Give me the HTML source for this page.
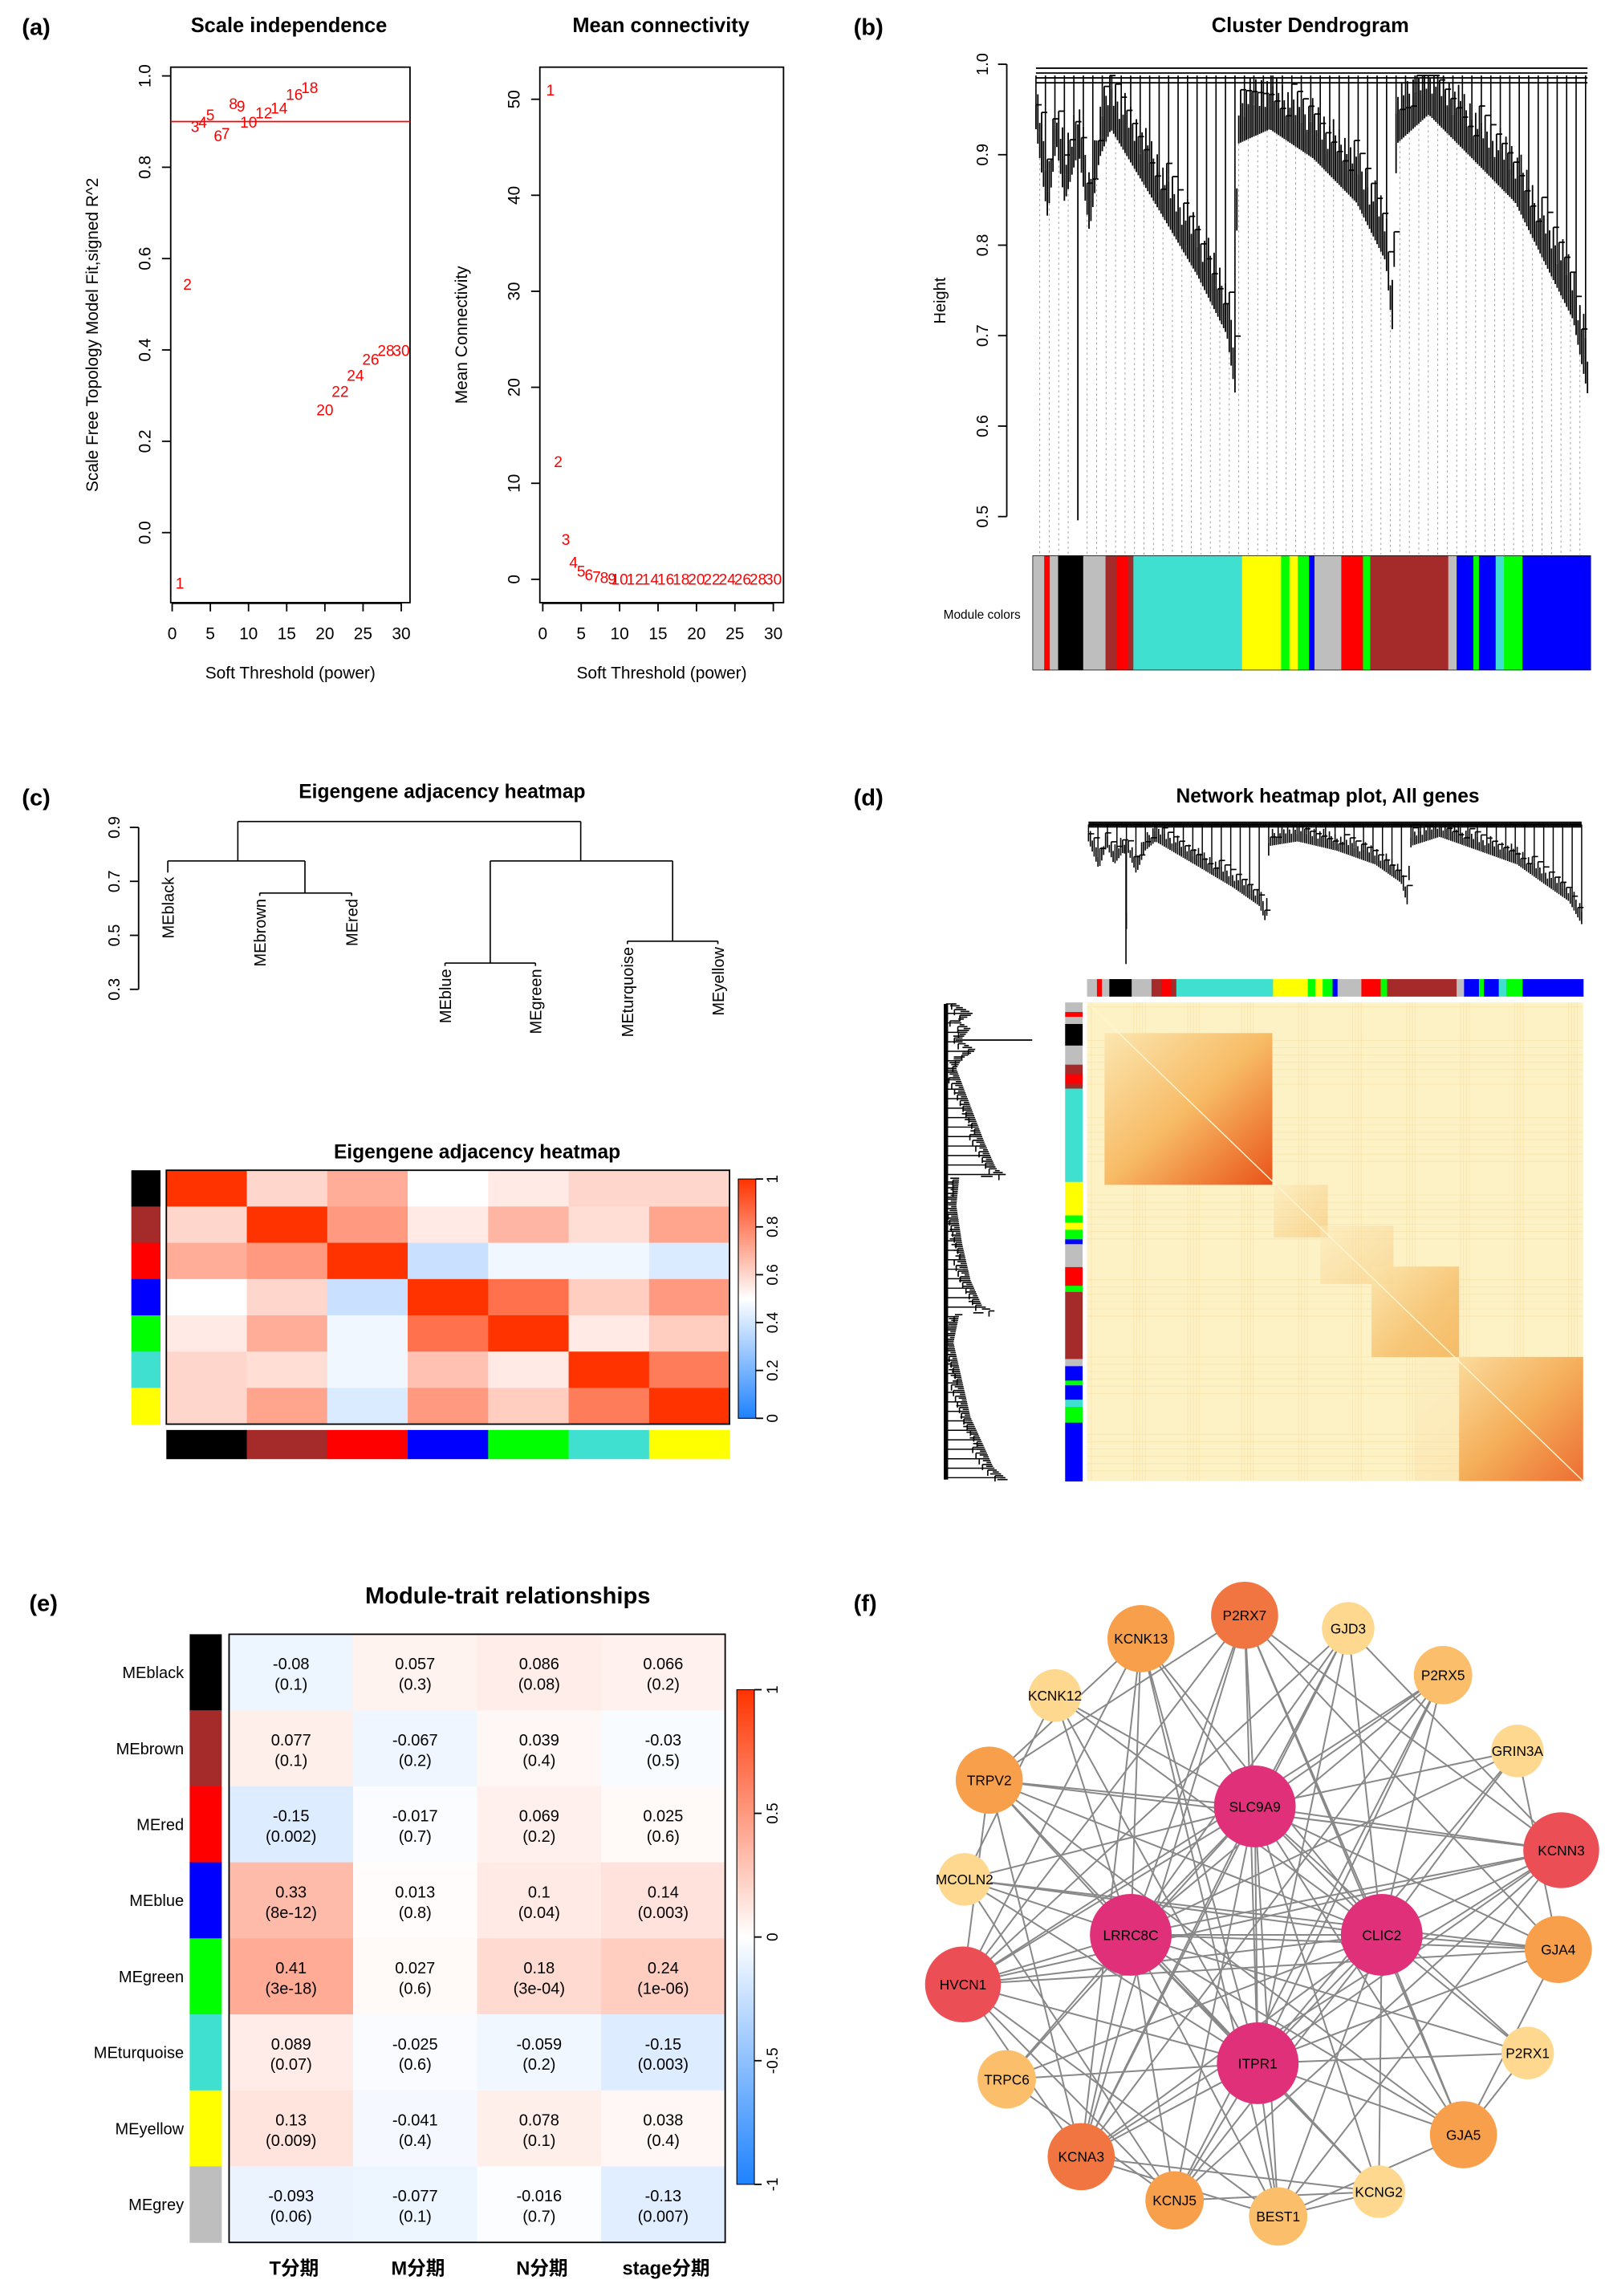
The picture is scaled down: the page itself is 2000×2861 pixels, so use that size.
<!DOCTYPE html>
<html><head><meta charset="utf-8"><style>
html,body{margin:0;padding:0;background:#fff;}
svg{display:block;font-family:"Liberation Sans","Noto Sans CJK SC",sans-serif;}
</style></head><body>
<svg id="fig" width="2000" height="2861" viewBox="0 0 1100 1573.5" xmlns="http://www.w3.org/2000/svg">
<defs>
<linearGradient id="gTurq" x1="0" y1="0" x2="1" y2="1"><stop offset="0" stop-color="#fbe6b0"/><stop offset="0.5" stop-color="#f7b860"/><stop offset="1" stop-color="#e84a10"/></linearGradient>
<linearGradient id="gBlue" x1="0" y1="0" x2="1" y2="1"><stop offset="0" stop-color="#fad590"/><stop offset="0.5" stop-color="#f39a3c"/><stop offset="1" stop-color="#e8400e"/></linearGradient>
<linearGradient id="gBrown" x1="0" y1="0" x2="1" y2="1"><stop offset="0" stop-color="#fbe4aa"/><stop offset="0.6" stop-color="#f6c270"/><stop offset="1" stop-color="#f4b65c"/></linearGradient>
<linearGradient id="gYel" x1="0" y1="0" x2="1" y2="1"><stop offset="0" stop-color="#fcebbc"/><stop offset="1" stop-color="#f5c370"/></linearGradient>
<linearGradient id="cbC" x1="0" y1="1" x2="0" y2="0"><stop offset="0" stop-color="#1e82ff"/><stop offset="0.5" stop-color="#ffffff"/><stop offset="1" stop-color="#ff3300"/></linearGradient>
</defs>
<g id="root"></g>
</svg>
<script>
// ---------- data ----------
const powers=[1,2,3,4,5,6,7,8,9,10,12,14,16,18,20,22,24,26,28,30];
const r2Values=[-0.11,0.545,0.89,0.9,0.915,0.87,0.875,0.94,0.935,0.9,0.92,0.93,0.96,0.975,0.27,0.31,0.345,0.38,0.40,0.40];
const meanConn=[51,12.3,4.2,1.8,0.9,0.5,0.3,0.2,0.1,0.05,0.05,0.05,0.05,0.05,0.05,0.05,0.05,0.05,0.05,0.05];
const xTicksA=[0,5,10,15,20,25,30];
const yTicksR2=[0.0,0.2,0.4,0.6,0.8,1.0];
const yTicksMC=[0,10,20,30,40,50];
const modules=["black","brown","red","blue","green","turquoise","yellow"];
const moduleColors=["#000000","#a52a2a","#ff0000","#0000ff","#00ff00","#40e0d0","#ffff00"];
const adjRows=[
[1,0.6,0.7,0.5,0.55,0.6,0.6],
[0.6,1,0.75,0.55,0.68,0.58,0.72],
[0.7,0.75,1,0.38,0.47,0.47,0.42],
[0.5,0.6,0.38,1,0.85,0.62,0.75],
[0.55,0.7,0.47,0.85,1,0.55,0.62],
[0.6,0.58,0.47,0.65,0.55,1,0.82],
[0.6,0.72,0.42,0.75,0.62,0.82,1]];
const traitRows=["MEblack","MEbrown","MEred","MEblue","MEgreen","MEturquoise","MEyellow","MEgrey"];
const traitRowColors=["#000000","#a52a2a","#ff0000","#0000ff","#00ff00","#40e0d0","#ffff00","#bebebe"];
const traitCols=["T分期","M分期","N分期","stage分期"];
const corT=[-0.08,0.077,-0.15,0.33,0.41,0.089,0.13,-0.093];
const corM=[0.057,-0.067,-0.017,0.013,0.027,-0.025,-0.041,-0.077];
const corN=[0.086,0.039,0.069,0.1,0.18,-0.059,0.078,-0.016];
const corS=[0.066,-0.03,0.025,0.14,0.24,-0.15,0.038,-0.13];
const pT=["0.1","0.1","0.002","8e-12","3e-18","0.07","0.009","0.06"];
const pM=["0.3","0.2","0.7","0.8","0.6","0.6","0.4","0.1"];
const pN=["0.08","0.4","0.2","0.04","3e-04","0.2","0.1","0.7"];
const pS=["0.2","0.5","0.6","0.003","1e-06","0.003","0.4","0.007"];
const segStart=[0,0.02,0.03,0.045,0.09,0.13,0.15,0.17,0.18,0.375,0.445,0.46,0.475,0.495,0.505,0.553,0.592,0.605,0.745,0.76,0.79,0.80,0.83,0.845,0.878];
const segCol=["#bebebe","#ff0000","#bebebe","#000000","#bebebe","#a52a2a","#ff0000","#a52a2a","#40e0d0","#ffff00","#00ff00","#ffff00","#00ff00","#0000ff","#bebebe","#ff0000","#00ff00","#a52a2a","#bebebe","#0000ff","#00ff00","#0000ff","#40e0d0","#00ff00","#0000ff"];
const nodeNames=["P2RX7","KCNK13","GJD3","KCNK12","P2RX5","GRIN3A","TRPV2","SLC9A9","KCNN3","MCOLN2","LRRC8C","CLIC2","GJA4","HVCN1","P2RX1","TRPC6","ITPR1","KCNA3","GJA5","KCNJ5","BEST1","KCNG2"];
const nodeX=[853,782,924,723,989,1040,678,860,1070,661,775,947,1068,660,1047,690,862,741,1003,805,876,945];
const nodeY=[1107,1123,1116,1162,1148,1200,1220,1238,1268,1288,1326,1326,1336,1360,1407,1425,1414,1478,1463,1508,1519,1502];
const nodeDegree=[9,8,4,3,6,4,8,14,11,4,14,14,8,10,3,6,14,9,8,7,6,3];
const edgesA=[0,0,0,0,0,1,1,1,2,2,3,4,4,5,6,6,6,8,8,8,9,12,12,13,13,13,14,15,17,17,18,19,20,1,4,6,9,0,8,2];
const edgesB=[6,8,13,17,18,6,13,17,8,13,9,13,17,12,8,13,17,13,17,19,19,13,18,17,19,20,18,19,20,21,20,21,21,20,19,18,12,12,20,17];
const treePos=[0,0.021,0.037,0.052,0.073,0.076,0.079,0.097,0.115,0.136,0.215,0.293,0.346,0.361,0.366,0.424,0.503,0.581,0.634,0.647,0.654,0.712,0.791,0.869,0.921,0.974,1];
const treeDepth=[0.13,0.31,0.16,0.28,0.19,0.93,0.19,0.34,0.19,0.13,0.28,0.43,0.55,0.67,0.16,0.13,0.19,0.28,0.40,0.55,0.16,0.10,0.19,0.28,0.40,0.52,0.67];

const root=document.getElementById('root');
const NS="http://www.w3.org/2000/svg";
function el(tag,attrs,parent,text){const e=document.createElementNS(NS,tag);for(const k in attrs)e.setAttribute(k,attrs[k]);if(text!==undefined)e.textContent=text;(parent||root).appendChild(e);return e;}
function grp(name){const g=el('g',{});return g;}
function txt(parent,name,x,y,s,size,opts){const t=el('text',Object.assign({x:x,y:y,'font-size':size,'text-anchor':'middle',fill:'#000'},opts||{}),parent,s);return t;}
function divColor(v){const c=Math.max(-1,Math.min(1,v));let r,g,b;if(c>=0){r=255;g=255-c*204;b=255-c*255;}else{const a=-c;r=255-a*225;g=255-a*125;b=255;}return `rgb(${r|0},${g|0},${b|0})`;}

[["(a)",15,24],["(b)",585,24],["(c)",15,552],["(d)",585,552],["(e)",20,1104],["(f)",585,1104]].forEach(p=>{txt(root,'panel-label-'+p[0][1],p[1],p[2],p[0],16,{'font-weight':'bold','text-anchor':'start'});});

function scatterPanel(name,bx0,bx1,by0,by1,xmin,xmax,xpx0,xpx1,ymin,ymax,ypx0,ypx1,yTicks,title,ylab,titleX){
 const g=grp(name);
 const sx=v=>xpx0+(v-xmin)/(xmax-xmin)*(xpx1-xpx0);
 const sy=v=>ypx0+(v-ymin)/(ymax-ymin)*(ypx1-ypx0);
 el('rect',{x:bx0,y:by0,width:bx1-bx0,height:by1-by0,fill:'none',stroke:'#000','stroke-width':1},g);
 txt(g,'title',titleX,22,title,14,{'font-weight':'bold'});
 xTicksA.forEach(v=>{el('line',{x1:sx(v),x2:sx(v),y1:by1,y2:by1+6,stroke:'#000'},g);txt(g,'x-tick-label',sx(v),by1+25,String(v),11.5);});
 el('line',{x1:sx(0),x2:sx(30),y1:by1+0.5,y2:by1+0.5,stroke:'#000'},g);
 yTicks.forEach(v=>{const y=sy(v);el('line',{x1:bx0-6,x2:bx0,y1:y,y2:y,stroke:'#000'},g);txt(g,'y-tick-label',bx0-14,y,(ymax<2)?v.toFixed(1):String(v),11.5,{transform:`rotate(-90 ${bx0-14} ${y})`});});
 txt(g,'x-axis-title',(bx0+bx1)/2,465,'Soft Threshold (power)',11.5);
 txt(g,'y-axis-title',bx0-50,(by0+by1)/2,ylab,11.5,{transform:`rotate(-90 ${bx0-50} ${(by0+by1)/2})`});
 return {g,sx,sy};
}
const A=scatterPanel('scale-independence-plot',117,281,46,413,0,30,118,275,0,1,365,52,yTicksR2,'Scale independence','Scale Free Topology Model Fit,signed R^2',198);
const hl=el('line',{x1:117,x2:281,y1:A.sy(0.9),y2:A.sy(0.9),stroke:'#ff0000','stroke-width':1},A.g);


powers.forEach((p,i)=>{txt(A.g,'point-label',A.sx(p),A.sy(r2Values[i])+4,String(p),10.5,{fill:'#ff0000'});});
const B=scatterPanel('mean-connectivity-plot',370,537,46,413,0,30,372,530,0,50,397,68,yTicksMC,'Mean connectivity','Mean Connectivity',453);
powers.forEach((p,i)=>{txt(B.g,'point-label',B.sx(p),B.sy(meanConn[i])+4,String(p),10.5,{fill:'#ff0000'});});

function interp(xs,ys,x){for(let i=0;i<xs.length-1;i++){if(x>=xs[i]&&x<=xs[i+1]){const t=(x-xs[i])/((xs[i+1]-xs[i])||1);return ys[i]+t*(ys[i+1]-ys[i]);}}return ys[ys.length-1];}
function dendro(g,p0,p1,rootC,groundC,horizontal,dotsTo,sw){
 const n=Math.round(Math.abs(p1-p0)/1.3);
 const line=(pa,da,pb,db,w,col,dash)=>{const at={stroke:col||'#000','stroke-width':w};if(dash)at['stroke-dasharray']=dash;
  if(horizontal){at.x1=da;at.x2=db;at.y1=pa;at.y2=pb;}else{at.x1=pa;at.x2=pb;at.y1=da;at.y2=db;}el('line',at,g);};
 const D=d=>rootC+d*(groundC-rootC);
 for(let i=0;i<=n;i++){
  const f=i/n, d=interp(treePos,treeDepth,f), pos=p0+f*(p1-p0);
  const j=((i*7)%11)/11;
  const top=Math.max(0.02,d-0.05-j*0.08);
  if(d<0.8){
   line(pos,D(top),pos,D(d),sw,'#000');
   if(i%5===0) line(pos,D(0.02),pos,D(Math.max(0.02,top)),sw*0.9,'#000');
   if(i%3===0 && i<n){const f2=(i+3)/n;line(pos,D(top),p0+f2*(p1-p0),D(top),sw,'#000');}
  }
 }
 // the single long outlier leaf
 let mi=0;treeDepth.forEach((d,i)=>{if(d>treeDepth[mi])mi=i;});
 const mp=p0+treePos[mi]*(p1-p0);
 line(mp,D(0.12),mp,D(treeDepth[mi]),sw,'#000');
 for(let k=0;k<4;k++) line(p0,D(0.005+k*0.01),p1,D(0.005+k*0.01),1,'#000');
 if(dotsTo){for(let i=2;i<=n;i+=5){const f=i/n,d=interp(treePos,treeDepth,f),pos=p0+f*(p1-p0);if(d<0.8)line(pos,D(d),pos,dotsTo,0.5,'#999','1.5,2');}}
}
function colorBar(g,x,y,w,h,vertical){
 segStart.forEach((s,i)=>{const e=i<segStart.length-1?segStart[i+1]:1;
  const r=vertical?el('rect',{x:x,y:y+s*h,width:w,height:(e-s)*h+0.3,fill:segCol[i]},g):el('rect',{x:x+s*w,y:y,width:(e-s)*w+0.3,height:h,fill:segCol[i]},g);
  
  });
}

(function(){
 const g=grp('cluster-dendrogram');
 txt(g,'title',898,22,'Cluster Dendrogram',14,{'font-weight':'bold'});
 const sy=v=>44+(1-v)/(0.5)*310;
 el('line',{x1:690,x2:690,y1:sy(1),y2:sy(0.5),stroke:'#000'},g);
 [0.5,0.6,0.7,0.8,0.9,1.0].forEach(v=>{el('line',{x1:684,x2:690,y1:sy(v),y2:sy(v),stroke:'#000'},g);txt(g,'y-tick-label',677,sy(v),v.toFixed(1),11,{transform:`rotate(-90 677 ${sy(v)})`});});
 txt(g,'y-axis-title',648,206,'Height',11,{transform:'rotate(-90 648 206)'});
 dendro(g,710,1088,45,380,false,380,1);
 el('rect',{x:708,y:381,width:382,height:78,fill:'none',stroke:'#000','stroke-width':0.8},g);
 colorBar(g,708,381,382,78,false);
 txt(g,'module-colors-label',673,424,'Module colors',8.5);
})();

(function(){
 const g=grp('eigengene-dendrogram');
 txt(g,'title',303,547,'Eigengene adjacency heatmap',13.5,{'font-weight':'bold'});
 const sy=v=>567+(0.9-v)/0.6*111;
 el('line',{x1:95,x2:95,y1:sy(0.9),y2:sy(0.3),stroke:'#000'},g);
 [0.3,0.5,0.7,0.9].forEach(v=>{el('line',{x1:89,x2:95,y1:sy(v),y2:sy(v),stroke:'#000'},g);txt(g,'y-tick-label',82,sy(v),v.toFixed(1),11,{transform:`rotate(-90 82 ${sy(v)})`});});
 const L=(x1,y1,x2,y2)=>el('line',{x1,y1,x2,y2,stroke:'#000','stroke-width':0.9},g);
 L(163,563,398,563);L(163,563,163,590);L(398,563,398,590);
 L(115,590,209,590);L(115,590,115,598);L(209,590,209,612);
 L(178,612,241,612);L(178,612,178,614);L(241,612,241,614);
 L(336,590,461,590);L(336,590,336,660);L(461,590,461,645);
 L(305,660,367,660);L(305,660,305,662);L(367,660,367,662);
 L(430,645,492,645);L(430,645,430,647);L(492,645,492,647);
 [["MEblack",115,601],["MEbrown",178,616],["MEred",241,616],["MEblue",305,664],["MEgreen",367,664],["MEturquoise",430,649],["MEyellow",492,649]].forEach(d=>{txt(g,'leaf-label',d[1]+4,d[2],d[0],11,{'text-anchor':'end',transform:`rotate(-90 ${d[1]+4} ${d[2]})`});});
 const h=grp('eigengene-heatmap');
 txt(h,'title',327,794,'Eigengene adjacency heatmap',13.5,{'font-weight':'bold'});
 const x0=114,y0=802,cw=386/7,ch=174/7;
 adjRows.forEach((row,i)=>row.forEach((v,j)=>{const r=el('rect',{x:x0+j*cw,y:y0+i*ch,width:cw+0.4,height:ch+0.4,fill:divColor(2*v-1)},h);}));
 el('rect',{x:x0,y:y0,width:386,height:174,fill:'none',stroke:'#000'},h);
 moduleColors.forEach((c,i)=>{el('rect',{x:90,y:y0+i*ch,width:20,height:ch+0.3,fill:c},h);el('rect',{x:x0+i*cw,y:980,width:cw+0.3,height:20,fill:c},h);});
 el('rect',{x:506,y:808,width:12,height:164,fill:'url(#cbC)',stroke:'#000','stroke-width':0.6},h);
 [0,0.2,0.4,0.6,0.8,1].forEach(v=>{const y=972-v*164;el('line',{x1:518,x2:523,y1:y,y2:y,stroke:'#000'},h);txt(h,'colorbar-tick',533,y,String(v),10.5,{transform:`rotate(-90 533 ${y})`});});
})();

(function(){
 const g=grp('network-heatmap');
 txt(g,'title',910,550,'Network heatmap plot, All genes',13.5,{'font-weight':'bold'});
 dendro(g,746,1084,563,668,false,0,0.9);
 colorBar(g,745,671,340,12,false);
 el('rect',{x:745,y:687,width:340,height:328,fill:'#fdf1c6'},g);
 for(let i=0;i<40;i++){const x=748+((i*37)%335);el('line',{x1:x,x2:x,y1:687,y2:1015,stroke:'#f6d890','stroke-width':0.6,opacity:0.35},g);
  const y=690+((i*53)%323);el('line',{x1:745,x2:1085,y1:y,y2:y,stroke:'#f6d890','stroke-width':0.6,opacity:0.35},g);}
 [[757,708,872,812,'url(#gTurq)',0.95],[873,812,910,848,'url(#gYel)',0.6],[905,840,955,880,'url(#gYel)',0.5],[940,868,1000,930,'url(#gBrown)',0.9],[1000,930,1085,1015,'url(#gBlue)',0.95],[970,930,1085,1015,'url(#gYel)',0.3]].forEach(b=>{const r=el('rect',{x:b[0],y:b[1],width:b[2]-b[0],height:b[3]-b[1],fill:b[4],opacity:b[5]},g);});
 el('line',{x1:745,y1:687,x2:1085,y2:1015,stroke:'#fff4d0','stroke-width':0.8},g);
 colorBar(g,730,687,12,328,true);
 dendro(g,688,1014,647,712,true,0,0.9);
})();

(function(){
 const g=grp('module-trait-heatmap');
 txt(g,'title',348,1099,'Module-trait relationships',16,{'font-weight':'bold'});
 const x0=157,y0=1120,cw=85,ch=52.1;
 const cols=[corT,corM,corN,corS],ps=[pT,pM,pN,pS];
 traitRows.forEach((n,i)=>{
  el('rect',{x:130,y:y0+i*ch,width:22,height:ch+0.3,fill:traitRowColors[i]},g);
  txt(g,'row-label',126,y0+i*ch+ch/2+4,n,11,{'text-anchor':'end'});
  cols.forEach((c,j)=>{const r=el('rect',{x:x0+j*cw,y:y0+i*ch,width:cw+0.3,height:ch+0.3,fill:divColor(c[i])},g);
   
   
   txt(g,'cell-value',x0+j*cw+cw/2,y0+i*ch+ch/2-2,String(c[i]),11);
   txt(g,'cell-pvalue',x0+j*cw+cw/2,y0+i*ch+ch/2+12,'('+ps[j][i]+')',11);});
 });
 el('rect',{x:x0,y:y0,width:340,height:ch*8,fill:'none',stroke:'#000'},g);
 traitCols.forEach((c,j)=>txt(g,'column-label',x0+j*cw+cw/2+2,1559,c,13,{'font-weight':'bold'}));
 el('rect',{x:505,y:1158,width:12,height:339,fill:'url(#cbC)',stroke:'#000','stroke-width':0.6},g);
 [1,0.5,0,-0.5,-1].forEach(v=>{const y=1327.5-v*169.5;el('line',{x1:517,x2:522,y1:y,y2:y,stroke:'#000'},g);txt(g,'colorbar-tick',533,y,String(v),10.5,{transform:`rotate(-90 533 ${y})`});});
})();

(function(){
 const g=grp('gene-network');
 const hubs=[7,10,11,16];
 const eg=grp('edges');g.appendChild(eg);
 const addE=(a,b)=>{const l=el('line',{x1:nodeX[a],y1:nodeY[a],x2:nodeX[b],y2:nodeY[b],stroke:'#888','stroke-width':1.1},eg);};
 hubs.forEach((h,hi)=>{nodeNames.forEach((n,i)=>{if(i!==h&&!(hubs.includes(i)&&hubs.indexOf(i)<hi))addE(h,i);});});
 edgesA.forEach((a,i)=>addE(a,edgesB[i]));
 const cols=d=>d>=14?'#e0307a':d>=10?'#ec4e56':d>=9?'#f17540':d>=7?'#f89f4c':d>=5?'#fbbe6a':'#fdd88e';
 nodeNames.forEach((n,i)=>{const d=nodeDegree[i];const r=d>=14?28:d>=10?26:d>=8?23:d>=6?20:18;
  const c=el('circle',{cx:nodeX[i],cy:nodeY[i],r:r,fill:cols(d)},g);
  
  
  txt(g,'node-label',nodeX[i],nodeY[i]+3.5,n,9.5);});
})();
</script>
</body></html>
